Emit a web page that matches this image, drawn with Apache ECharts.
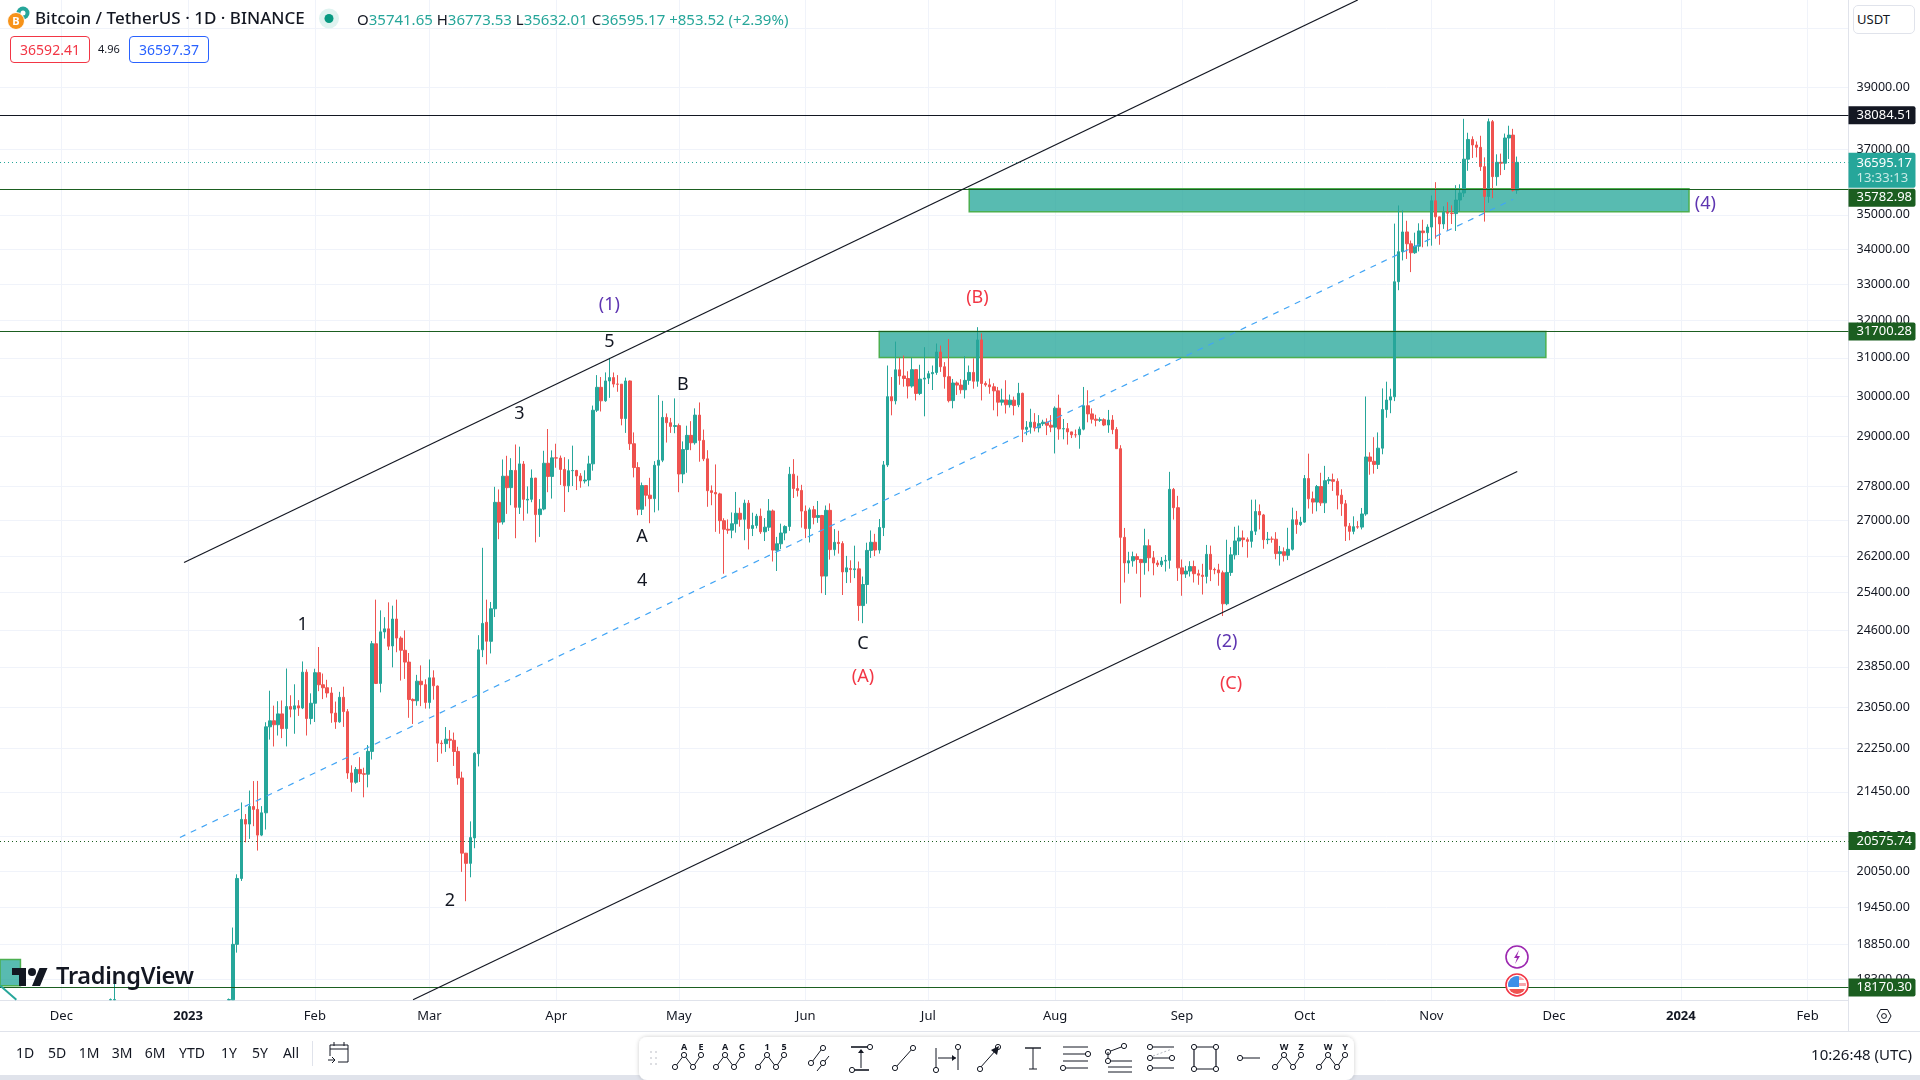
<!DOCTYPE html>
<html>
<head>
<meta charset="utf-8">
<title>BTCUSDT</title>
<script src="https://cdn.jsdelivr.net/npm/echarts@6/dist/echarts.min.js"></script>
<style>
	html, body { margin: 0; padding: 0; background: #fff; overflow: hidden; }
	body, svg text { font-family: "Noto Sans", sans-serif; }
	#main { position: absolute; left: 0; top: 0; width: 1920px; height: 1080px; }
	#overlay { position: absolute; left: 0; top: 0; width: 1920px; height: 1080px; pointer-events: none; }
	.t { position: absolute; white-space: nowrap; color: #131722; line-height: 20px; }
	.up { color: #26a69a; }
</style>
</head>
<body>
<div id="main"></div>
<div id="overlay">
	<svg id="icons" width="1920" height="1080" style="position:absolute;left:0;top:0"></svg>
	<div class="t" style="left:35px;top:8px;font-size:17px;font-weight:500">Bitcoin / TetherUS · 1D · BINANCE</div>
	<div class="t" style="left:357px;top:9px;font-size:15px">O<span class="up">35741.65</span>&nbsp;H<span class="up">36773.53</span>&nbsp;L<span class="up">35632.01</span>&nbsp;C<span class="up">36595.17</span>&nbsp;<span class="up">+853.52 (+2.39%)</span></div>
	<div class="t" style="left:10px;top:36px;width:78px;height:25px;line-height:25px;border:1px solid #f23645;border-radius:4px;color:#f23645;text-align:center;font-size:14px">36592.41</div>
	<div class="t" style="left:98px;top:39px;font-size:11px">4.96</div>
	<div class="t" style="left:129px;top:36px;width:78px;height:25px;line-height:25px;border:1px solid #2962ff;border-radius:4px;color:#2962ff;text-align:center;font-size:14px">36597.37</div>
	<div class="t" style="left:1853px;top:5px;width:60px;height:27px;line-height:26px;border:1px solid #e0e3eb;border-radius:5px;background:#fff;font-size:13px;text-indent:3px">USDT</div>
	<div class="t" style="left:56px;top:961px;font-size:23.5px;font-weight:600;line-height:28px;letter-spacing:-0.3px">TradingView</div>
	<div class="t" id="ranges"></div>
	<div class="t" style="right:8px;top:1044px;font-size:15px">10:26:48 (UTC)</div>
</div>
<script>
'use strict';

// daily candles: [open, high, low, close]
// the first rows only show their upper wick above the bottom edge of the pane
var dec22 = [[17980,18000,17980,17985],[17980,18387,17980,17985]];
var jan23 = [[17980,18000,17980,17985],[17980,19117,17980,18846],[18846,20000,18714,19930],[19930,21258,19888,20954],[20952,21050,20551,20871],[20872,21474,20611,21185],[21185,21647,20834,21133],[21133,21650,20407,20677],[20677,21192,20659,21072],[21072,22755,20775,22667],[22667,23372,22422,22783],[22784,23078,22292,22707],[22707,23165,22500,22917],[22917,23180,22450,22633],[22633,23816,22293,23060],[23060,23282,22850,23009],[23009,23500,22534,23074],[23074,23186,22878,23032],[23032,23960,23010,23743],[23743,23800,22500,22827],[22827,23320,22714,23125]];
var feb23 = [[23125,23812,22760,23733],[23733,24255,23363,23491],[23491,23715,23206,23431],[23431,23590,23237,23327],[23327,23442,22745,22933],[22933,23158,22628,22762],[22763,23350,22745,23242],[23242,23452,22665,22962],[22961,23011,21688,21796],[21797,21938,21451,21625],[21626,21906,21599,21862],[21862,22090,21630,21783],[21782,21894,21351,21773],[21773,22319,21532,22200],[22199,24380,22047,24324],[24322,25250,23505,23517],[23517,25021,23339,24569],[24568,24877,24430,24632],[24632,25192,24192,24272],[24277,25121,23840,24838],[24838,25250,24148,24440],[24439,24476,23574,24189],[24188,24600,23608,23947],[23947,24132,22841,23198],[23200,23219,22722,23175],[23174,23689,23077,23562],[23561,23880,23068,23492],[23492,23600,23020,23141]];
var mar23 = [[23141,24000,23020,23629],[23629,23780,23195,23470],[23465,23476,22000,22355],[22355,22410,22158,22346],[22346,22662,22189,22430],[22430,22603,22258,22410],[22409,22557,21927,22197],[22198,22287,21580,21705],[21704,21820,20042,20363],[20362,20367,19549,20187],[20187,20919,19950,20633],[20628,22185,20448,22163],[22156,24500,21918,24197],[24198,26386,24048,24746],[24770,25250,23900,24375],[24373,25200,24123,25055],[25055,27787,24880,27423],[27424,27725,26578,26965],[26969,28440,26911,28038],[28039,28528,27156,27767],[27768,28470,27357,28175],[28176,28803,26601,27307],[27307,28750,27154,28333],[28328,28400,27000,27493],[27476,27797,27163,27494],[27494,28200,27426,27994],[27994,27999,26508,27139],[27139,27499,26631,27268],[27268,28650,27239,28348],[28348,29184,27660,28033],[28033,28660,27511,28478]];
var apr23 = [[28478,28822,28240,28473],[28473,28534,27831,28200],[28200,28495,27200,27811],[27811,28444,27662,28169],[28169,28775,27806,28175],[28175,28190,27711,28044],[28044,28111,27766,27925],[27925,28179,27867,27948],[27948,28530,27800,28333],[28334,29770,28170,29652],[29653,30550,29607,30235],[30235,30500,29621,29891],[29892,30620,29866,30399],[30399,31000,29966,30485],[30485,30618,30234,30318],[30318,30550,30121,30315],[30316,30320,29275,29445],[29445,30485,29088,30398],[30398,30412,28670,28822],[28822,29100,28010,28245],[28245,28374,27125,27262],[27262,27888,27130,27816],[27816,27820,27331,27590],[27591,28000,26942,27510],[27510,28399,27192,28300],[28300,30036,27235,28422],[28422,29890,28375,29473],[29473,29572,28850,29340],[29340,29460,29088,29248],[29248,29952,29080,29268]];
var may23 = [[29268,29320,27660,28091],[28091,28879,27872,28680],[28680,29266,28120,29027],[29027,29379,28664,28845],[28845,29700,28800,29530],[29530,29849,28385,28904],[28905,29170,28400,28454],[28454,28664,27320,27695],[27695,27820,27356,27654],[27654,28320,26745,27621],[27621,27647,26702,27000],[27000,27055,25811,26804],[26804,27029,26700,26784],[26784,27190,26601,26930],[26930,27666,26727,27170],[27170,27299,26863,27031],[27031,27485,26555,27405],[27405,27476,26350,26822],[26822,27183,26650,26891],[26891,27156,26823,27102],[27102,27280,26700,26747],[26747,27060,26538,26851],[26851,27500,26765,27225],[27224,27257,26080,26334],[26329,26631,25871,26476],[26476,26932,26360,26719],[26719,26895,26555,26868],[26868,28261,26767,28085],[28085,28447,27524,27745],[27745,28050,27559,27702],[27702,27834,26841,27220]];
var jun23 = [[27219,27350,26605,26819],[26820,27300,26505,27249],[27252,27340,26916,27075],[27075,27455,26951,27119],[27119,27132,25388,25760],[25760,27350,25350,27238],[27238,27399,26123,26345],[26345,26808,26210,26508],[26508,26770,26256,26480],[26481,26533,25350,25851],[25851,26205,25608,25940],[25925,26107,25613,25903],[25902,26433,25715,25918],[25918,26080,24800,25124],[25123,25750,24750,25576],[25576,26500,25162,26327],[26327,26777,26160,26510],[26510,26700,26200,26336],[26336,27038,26256,26844],[26841,28402,26650,28308],[28307,30800,28260,29996],[29996,30500,29525,29890],[29890,31431,29800,30688],[30688,31000,30300,30527],[30527,31060,30250,30462],[30462,30650,29950,30268],[30267,31000,30226,30692],[30692,30700,29900,30078],[30078,30819,30036,30446],[30446,31282,29500,30472]];
var jul23 = [[30472,30660,30320,30586],[30586,30800,30166,30617],[30617,31380,30558,31156],[31156,31326,30633,30767],[30767,30888,30200,30509],[30509,31500,29850,29895],[29896,30450,29701,30346],[30347,30385,30040,30292],[30292,30444,30072,30172],[30172,31045,29950,30414],[30414,30800,30300,30620],[30620,30990,30200,30392],[30392,31818,30250,31476],[31476,31650,29900,30334],[30334,30390,30250,30298],[30298,30460,30070,30249],[30249,30340,29651,30145],[30145,30245,29500,29856],[29856,30200,29770,29913],[29913,30417,29570,29792],[29792,30050,29720,29908],[29908,29999,29525,29771],[29790,30350,29730,30081],[30081,30098,28861,29176],[29176,29380,29030,29228],[29229,29690,29070,29354],[29353,29580,29125,29213],[29213,29530,29100,29316],[29316,29415,29260,29354],[29354,29450,29033,29278],[29278,29530,29106,29230]];
var aug23 = [[29230,29750,28585,29705],[29705,30047,28920,29186],[29186,29433,28930,29193],[29193,29333,28800,29113],[29113,29118,28960,29042],[29042,29170,28970,29041],[29042,29244,28700,29180],[29180,30244,29151,29766],[29766,30160,29350,29561],[29561,29700,29320,29429],[29429,29540,29250,29400],[29400,29474,29360,29416],[29416,29450,29256,29283],[29283,29660,29090,29408],[29408,29530,29056,29170],[29170,29230,28700,28701],[28701,28786,25166,26621],[26621,26834,25619,26049],[26049,26296,25812,26096],[26096,26300,25966,26189],[26189,26258,25812,26126],[26126,26139,25300,26056],[26056,26815,25790,26432],[26432,26575,25864,26163],[26163,26313,25777,26047],[26048,26107,25960,26008],[26008,26180,25960,26089],[26089,26224,25860,26106],[26106,28142,25922,27728],[27726,27760,27025,27299],[27299,27575,25655,25940]];
var sep23 = [[25940,26125,25333,25805],[25805,25985,25720,25869],[25869,26087,25750,25969],[25969,26100,25620,25812],[25812,25900,25570,25780],[25780,26030,25360,25753],[25753,26450,25600,26240],[26240,26435,25650,25905],[25905,25945,25800,25895],[25895,26030,25550,25832],[25832,25880,24901,25162],[25162,26567,25131,25840],[25840,26400,25764,26228],[26228,26860,26126,26539],[26539,26888,26224,26608],[26608,26777,26400,26568],[26568,26620,26166,26530],[26530,27485,26390,26760],[26760,27488,26674,27211],[27211,27375,26800,27132],[27132,27155,26365,26567],[26568,26743,26468,26580],[26580,26640,26500,26579],[26579,26738,26130,26256],[26256,26428,25990,26298],[26298,26395,26080,26217],[26217,26838,26112,26352],[26352,27300,26324,27021],[27021,27225,26700,26911],[26911,27089,26880,26967]];
var oct23 = [[26967,28066,26950,27983],[27983,28580,27280,27505],[27505,27675,27160,27429],[27429,27830,27215,27794],[27794,28120,27340,27411],[27411,28285,27175,27932],[27932,28020,27850,27956],[27956,28100,27690,27917],[27917,27987,27260,27591],[27591,27730,27110,27390],[27390,27478,26538,26875],[26875,26947,26555,26756],[26756,27100,26690,26862],[26862,26989,26815,26853],[26853,27293,26800,27154],[27154,30000,27112,28500],[28500,28613,28073,28395],[28395,28982,28100,28320],[28320,29100,28210,28713],[28713,30207,28565,29670],[29670,30380,29464,29910],[29910,30200,29578,29992],[29992,34741,29883,33069],[33069,35280,32832,33922],[33922,35132,33672,34496],[34496,34824,33715,34152],[34152,34245,33340,33892],[33892,34475,33860,34081],[34081,34750,33930,34525],[34525,34856,34050,34474],[34474,34720,34076,34639]];
var nov23 = [[34639,35579,34097,35421],[35421,35984,34300,34941],[34941,34946,34124,34732],[34732,35255,34586,35082],[35082,35380,34527,35049],[35049,35282,34730,35037],[35037,35892,34525,35443],[35443,35919,35107,35655],[35655,37972,35534,36693],[36693,37526,36333,37313],[37313,37411,36731,37138],[37138,37250,36750,37064],[37064,37430,36330,36462],[36462,36750,34800,35551],[35551,37980,35360,37880],[37880,37934,35500,36154],[36154,36845,35875,36596],[36596,36867,36200,36568],[36568,37500,36360,37359],[37359,37750,36700,37450],[37450,37650,35700,35741],[35741.65,36773.53,35632.01,36595.17]];

var priceTicks = [41000,39000,37000,35000,34000,33000,32000,31000,30000,29000,27800,27000,26200,25400,24600,23850,23050,22250,21450,20650,20050,19450,18850,18300];
var monthTicks = ['2022-12-01','2023-01-01','2023-02-01','2023-03-01','2023-04-01','2023-05-01','2023-06-01','2023-07-01','2023-08-01','2023-09-01','2023-10-01','2023-11-01','2023-12-01','2024-01-01','2024-02-01'];
var monthLabels = ['Dec','2023','Feb','Mar','Apr','May','Jun','Jul','Aug','Sep','Oct','Nov','Dec','2024','Feb'];

// drawings on the chart
var upperChannel = [['2022-12-31',26060],['2023-10-14',42000]];
var lowerChannel = [['2023-02-25',17980],['2023-11-22',28150]];
var midChannel = [['2022-12-30',20635],['2023-11-21',35465]];
var oldLine = [['2022-11-16',18200],['2022-11-20',17980]];
var zones = [
	[['2023-07-11',35782.98],['2024-01-03',35090]],
	[['2023-06-19',31700.28],['2023-11-29',31012]],
	[['2022-11-16',18607],['2022-11-21',18195]]
];
var lastPrice = 36595.17;
var blackLabels = [['2023-01-29',24717,'1'],['2023-03-06',19562,'2'],['2023-03-23',29558,'3'],['2023-04-14',31427,'5'],['2023-05-02',30303,'B'],['2023-04-22',26640,'A'],['2023-04-22',25663,'4'],['2023-06-15',24313,'C']];
var redLabels = [['2023-06-15',23642,'(A)'],['2023-07-13',32624,'(B)'],['2023-09-13',23516,'(C)']];
var purpleLabels = [['2023-04-14',32420,'(1)'],['2023-09-12',24364,'(2)'],['2024-01-07',35342,'(4)']];
var rangeButtons = ['1D','5D','1M','3M','6M','YTD','1Y','5Y','All'];

var DAY = 86400000;
var FIRST_DAY = new Date('2022-11-16').getTime();
var DAY_COUNT = 453;
var days = [];
for (var i = 0; i < DAY_COUNT; i++) {
	days.push(new Date(FIRST_DAY + i * DAY).toISOString().slice(0, 10));
}

// candlestick rows line up with days, empty days stay empty
var candles = days.map(function() { return ['-', '-', '-', '-']; });
function addMonth(first, rows) {
	var start = days.indexOf(first);
	rows.forEach(function(r, i) {
		candles[start + i] = [r[0], r[3], r[2], r[1]];
	});
}
addMonth('2022-12-13', dec22);
addMonth('2023-01-11', jan23);
addMonth('2023-02-01', feb23);
addMonth('2023-03-01', mar23);
addMonth('2023-04-01', apr23);
addMonth('2023-05-01', may23);
addMonth('2023-06-01', jun23);
addMonth('2023-07-01', jul23);
addMonth('2023-08-01', aug23);
addMonth('2023-09-01', sep23);
addMonth('2023-10-01', oct23);
addMonth('2023-11-01', nov23);

function isMonthTick(idx, name) {
	return monthTicks.indexOf(name) >= 0;
}

function lineSeries(pts, color, width, type) {
	return {
		type: 'line', data: pts, symbol: 'none', silent: true, z: 6, clip: true,
		lineStyle: { color: color, width: width, type: type || 'solid' }
	};
}
function labelSeries(rows, color) {
	return {
		type: 'scatter', data: rows, symbolSize: 1, silent: true, z: 7,
		itemStyle: { color: 'transparent', opacity: 1 },
		label: {
			show: true, position: 'inside', color: color, fontSize: 18,
			formatter: function(p) { return p.value[2]; }
		}
	};
}
function tag(value, color, type, text) {
	return {
		yAxis: value,
		lineStyle: { color: color, width: 1.1, type: type || 'solid' },
		label: {
			show: true, position: 'end', distance: 0, formatter: text || value.toFixed(2),
			color: '#fff', backgroundColor: color, fontSize: 13,
			padding: [3, 5, 2, 8], width: 54, align: 'left', borderRadius: [0, 2, 2, 0]
		}
	};
}
var pushedTag = tag(35782.98, '#1b5e20');
pushedTag.label.offset = [0, 9];
var closeTag = tag(lastPrice, '#26a69a', [1, 3], lastPrice.toFixed(2) + '\n{c|13:33:13}');
closeTag.label.rich = { c: { color: '#c9ebe7', fontSize: 13, lineHeight: 15 } };
closeTag.label.lineHeight = 15;
closeTag.label.offset = [0, 8];

var option = {
	animation: false,
	textStyle: { fontFamily: '"Noto Sans", sans-serif' },
	grid: { left: -0.4, right: 71.5, top: 0, bottom: 80 },
	xAxis: {
		type: 'category', data: days, boundaryGap: false,
		axisLine: { show: true, lineStyle: { color: '#e0e3eb' } },
		axisTick: { show: false, interval: isMonthTick },
		splitLine: { show: true, interval: isMonthTick, lineStyle: { color: '#f0f3fa' } },
		axisLabel: {
			interval: isMonthTick, margin: 10, color: '#131722', fontSize: 13, hideOverlap: false,
			formatter: function(v) {
				var s = monthLabels[monthTicks.indexOf(v)];
				return s.length == 4 ? '{b|' + s + '}' : s;
			},
			rich: { b: { fontWeight: 'bold', fontSize: 13, color: '#131722' } }
		}
	},
	yAxis: {
		type: 'log', position: 'right', min: 17977, max: 42000, logBase: 10,
		axisLine: { show: true, lineStyle: { color: '#e0e3eb' } },
		axisTick: { show: false, customValues: priceTicks },
		splitLine: { show: true, lineStyle: { color: '#f0f3fa' } },
		axisLabel: {
			customValues: priceTicks, margin: 8, color: '#131722', fontSize: 12.5, padding: [4, 0, 0, 0],
			formatter: function(v) { return Number(v).toFixed(2); }
		}
	},
	series: [
		{
			type: 'candlestick', data: candles, barWidth: 3, z: 2, silent: true,
			itemStyle: { color: '#26a69a', color0: '#ef5350', borderColor: '#26a69a', borderColor0: '#ef5350', borderWidth: 1 }
		},
		{
			type: 'line', data: [], silent: true, z: 5,
			markLine: {
				symbol: 'none', silent: true,
				data: [
					tag(38084.51, '#131722'),
					pushedTag,
					tag(31700.28, '#1b5e20'),
					tag(18170.30, '#1b5e20'),
					tag(20575.74, '#1b5e20', [1, 3]),
					closeTag
				]
			},
			markArea: {
				silent: true,
				itemStyle: { color: 'rgba(38,166,154,0.77)', borderColor: '#4caf50', borderWidth: 1.5 },
				data: zones.map(function(z) {
					return [{ coord: z[0] }, { coord: z[1] }];
				})
			}
		},
		lineSeries(upperChannel, '#131722', 1.2),
		lineSeries(lowerChannel, '#131722', 1.2),
		lineSeries(midChannel, '#42a5f5', 1.2, [6, 6]),
		lineSeries(oldLine, '#26a69a', 2),
		labelSeries(blackLabels, '#131722'),
		labelSeries(redLabels, '#f23645'),
		labelSeries(purpleLabels, '#5e35b1')
	]
};

var myChart = echarts.init(document.getElementById('main'), null, { renderer: 'canvas' });
myChart.setOption(option);

// footer buttons
var btnX = [25, 57, 89, 122, 155, 192, 229, 260, 291];
document.getElementById('ranges').innerHTML = rangeButtons.map(function(b, i) {
	return '<div class="t" style="left:' + (btnX[i] - 25) + 'px;top:1043px;width:50px;text-align:center;font-size:14px">' + b + '</div>';
}).join('');

// icons, logo and frame pieces
function node(x, y) { return '<circle cx="' + x + '" cy="' + y + '" r="2.6" fill="#fff" stroke="#131722"/>'; }
function ln(a, b, c, d, w) { return '<path d="M' + a + ' ' + b + 'L' + c + ' ' + d + '" stroke="#131722" stroke-width="' + (w || 1) + '" fill="none"/>'; }
function wave(x, a, b) {
	var y = 1058;
	return ln(x - 14, y + 9, x - 5, y - 3) + ln(x - 5, y - 3, x + 4, y + 9) + ln(x + 4, y + 9, x + 12, y - 3) +
		node(x - 14, y + 9) + node(x - 5, y - 3) + node(x + 4, y + 9) + node(x + 12, y - 3) +
		'<text x="' + (x - 5) + '" y="' + (y - 8) + '" font-size="9" font-weight="bold" text-anchor="middle" fill="#131722">' + a + '</text>' +
		'<text x="' + (x + 12) + '" y="' + (y - 8) + '" font-size="9" font-weight="bold" text-anchor="middle" fill="#131722">' + b + '</text>';
}
var svg = '';
// frame
svg += '<rect x="0" y="1075" width="1920" height="5" fill="#e0e3eb"/>';
svg += ln(0, 1031.5, 1920, 1031.5).replace('#131722', '#e0e3eb');
svg += ln(1848.5, 1000, 1848.5, 1031).replace('#131722', '#e0e3eb');
svg += ln(312.5, 1041, 312.5, 1066).replace('#131722', '#e0e3eb');
// bitcoin logo
svg += '<circle cx="23" cy="13" r="6.5" fill="#26a69a"/><circle cx="23" cy="13" r="2.5" fill="#fff"/>';
svg += '<circle cx="16" cy="21" r="8.5" fill="#f7931a" stroke="#fff"/><text x="16" y="25" font-size="11" font-weight="bold" fill="#fff" text-anchor="middle">B</text>';
// market status dot
svg += '<circle cx="329" cy="18.5" r="10" fill="#dff3f0"/><circle cx="329" cy="18.5" r="4.5" fill="#089981"/>';
// usdt chevron
svg += '<path d="M1903 18l3 3 3-3" stroke="#131722" fill="none" stroke-width="1.2"/>';
// tv logo
svg += '<g transform="translate(12,964) scale(1.0)" fill="#131722"><path d="M14 22H7V11H0V4h14v18zM28 22h-8l7.5-18h8L28 22z"/><circle cx="20" cy="8" r="4"/></g>';
// event bubbles
svg += '<circle cx="1517" cy="957" r="11" fill="#fff" stroke="#9c27b0" stroke-width="1.6"/><path d="M1519 950l-5 8h3l-2 6 5-8h-3z" fill="#9c27b0"/>';
svg += '<circle cx="1517" cy="985" r="11" fill="#fff" stroke="#f23645" stroke-width="1.6"/><clipPath id="fl"><circle cx="1517" cy="985" r="9"/></clipPath><g clip-path="url(#fl)"><rect x="1506" y="975" width="22" height="5" fill="#f7a6ab"/><rect x="1506" y="983" width="22" height="3" fill="#f7a6ab"/><rect x="1506" y="989" width="22" height="6" fill="#ef5350"/><rect x="1508" y="976" width="11" height="11" fill="#3d8fe8"/></g>';
// settings gear
svg += '<path d="M1877 1016l3.5-6.5h7l3.5 6.5-3.5 6.5h-7z" fill="none" stroke="#131722"/><circle cx="1884" cy="1016" r="2.4" fill="none" stroke="#131722"/>';
// calendar
svg += '<path d="M330 1045h18v17h-10M330 1056v-11M330 1049h18M334 1042v4M344 1042v4M328 1060h7M332 1057l3 3-3 3" fill="none" stroke="#131722"/>';
// toolbar panel
svg += '<defs><filter id="sh" x="-5%" y="-30%" width="110%" height="160%"><feDropShadow dx="0" dy="0" stdDeviation="2" flood-color="#000" flood-opacity="0.2"/></filter></defs>';
svg += '<path d="M647 1037H1346a8 8 0 0 1 8 8V1072a8 8 0 0 1 -8 8H647a8 8 0 0 1 -8 -8V1045a8 8 0 0 1 8 -8z" fill="#fff" filter="url(#sh)"/>';
[1052, 1058, 1064].forEach(function(y) {
	svg += '<circle cx="651" cy="' + y + '" r="0.8" fill="#b2b5be"/><circle cx="656" cy="' + y + '" r="0.8" fill="#b2b5be"/>';
});
svg += wave(689, 'A', 'E') + wave(730, 'A', 'C') + wave(772, '1', '5');
svg += ln(812, 1062, 824, 1046) + node(811, 1063) + node(823, 1048) + ln(817, 1071, 829, 1056) + node(823, 1063);
svg += ln(851, 1047, 868, 1047, 1.6) + node(870, 1047) + ln(852, 1070, 869, 1070, 1.6) + node(852, 1070) + ln(861, 1068, 861, 1050) + '<path d="M858 1053l3-4 3 4z" fill="#131722"/>';
svg += ln(896, 1067, 913, 1048) + node(895, 1068) + node(913, 1048);
svg += ln(936, 1048, 936, 1068) + node(936, 1070) + ln(958, 1046, 958, 1070) + node(958, 1047) + ln(938, 1058, 956, 1058) + '<path d="M952 1055l4 3-4 3z" fill="#131722"/>';
svg += ln(980, 1068, 996, 1050) + node(980, 1069) + node(998, 1047) + '<path d="M999 1046l-2 9-6-5z" fill="#131722"/>';
svg += ln(1025, 1048, 1041, 1048, 1.4) + ln(1033, 1048, 1033, 1069) + ln(1029, 1069, 1037, 1069);
svg += ln(1063, 1047, 1088, 1047) + ln(1063, 1054, 1086, 1054) + ln(1063, 1061, 1088, 1061) + ln(1066, 1068, 1088, 1068) + node(1088, 1054) + node(1063, 1068);
svg += ln(1108, 1052, 1124, 1046) + node(1108, 1052) + node(1124, 1046) + ln(1108, 1052, 1108, 1060) + node(1108, 1061) + ln(1110, 1061, 1132, 1061) + ln(1108, 1067, 1132, 1067) + ln(1108, 1072, 1132, 1072);
svg += ln(1153, 1047, 1174, 1047) + node(1150, 1047) + ln(1153, 1058, 1172, 1058) + node(1150, 1058) + node(1172, 1058) + ln(1153, 1068, 1174, 1068) + node(1150, 1068) + '<path d="M1153 1056L1172 1049" stroke="#b2b5be" stroke-dasharray="2 2"/>';
svg += ln(1194, 1047, 1216, 1047) + ln(1194, 1069, 1216, 1069) + ln(1194, 1047, 1194, 1069, 1.2) + ln(1216, 1047, 1216, 1069, 1.2) + node(1194, 1047) + node(1216, 1047) + node(1194, 1069) + node(1216, 1069);
svg += ln(1241, 1058, 1260, 1058) + node(1240, 1058);
svg += wave(1289, 'W', 'Z') + wave(1333, 'W', 'Y');
document.getElementById('icons').innerHTML = svg;
</script>
</body>
</html>
